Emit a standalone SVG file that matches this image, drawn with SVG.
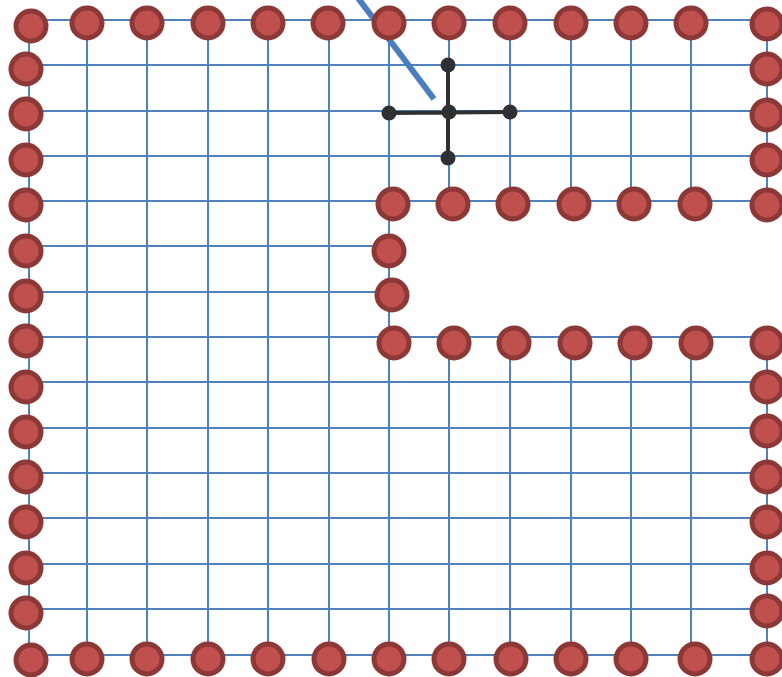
<svg xmlns="http://www.w3.org/2000/svg" width="782" height="677" viewBox="0 0 782 677">
<style>
.g{stroke:#4F81BD;stroke-width:2;fill:none}
.n{fill:#C0504D;stroke:#8C3836;stroke-width:5}
.k{stroke:#2F3033;stroke-width:4;fill:none}
.d{fill:#2F3033}
</style>
<rect width="782" height="677" fill="#fff"/>
<g id="grid" class="g">
<path d="M29 20V655M87 20V655M147 20V655M208 20V655M268 20V655M329 20V655M389 20V655"/>
<path d="M449 20V201M510 20V201M571 20V201M631 20V201M691 20V201M767 20V201"/>
<path d="M449 337V655M510 337V655M571 337V655M631 337V655M691 337V655M767 337V655"/>
<path d="M29 20H767M29 65H767M29 111H767M29 156H767M29 201H767M29 246H389M29 292H389M29 337H767M29 382H767M29 428H767M29 473H767M29 518H767M29 564H767M29 609H767M29 655H767"/>
</g>
<g id="connectors">
<line x1="358" y1="-2" x2="434" y2="99" stroke="#4A7EBF" stroke-width="6"/>
<path class="k" d="M389 113L510 112M448 65V158"/>
</g>
<g id="cross-nodes">
<circle class="d" cx="448" cy="65" r="7.5"/>
<circle class="d" cx="389" cy="113" r="7.5"/>
<circle class="d" cx="449" cy="112" r="7.5"/>
<circle class="d" cx="510" cy="112" r="7.5"/>
<circle class="d" cx="448" cy="158" r="7.5"/>
</g>
<g id="boundary-nodes">
<g id="top">
<circle class="n" cx="31" cy="26" r="15"/>
<circle class="n" cx="87" cy="23" r="15"/>
<circle class="n" cx="147" cy="23" r="15"/>
<circle class="n" cx="208" cy="23" r="15"/>
<circle class="n" cx="268" cy="23" r="15"/>
<circle class="n" cx="328" cy="23" r="15"/>
<circle class="n" cx="389" cy="23" r="15"/>
<circle class="n" cx="449" cy="23" r="15"/>
<circle class="n" cx="510" cy="23" r="15"/>
<circle class="n" cx="571" cy="23" r="15"/>
<circle class="n" cx="631" cy="23" r="15"/>
<circle class="n" cx="691" cy="23" r="15"/>
<circle class="n" cx="767" cy="24" r="15"/>
</g>
<g id="left">
<circle class="n" cx="26" cy="69" r="15"/>
<circle class="n" cx="26" cy="114" r="15"/>
<circle class="n" cx="26" cy="160" r="15"/>
<circle class="n" cx="26" cy="205" r="15"/>
<circle class="n" cx="26" cy="251" r="15"/>
<circle class="n" cx="26" cy="296" r="15"/>
<circle class="n" cx="26" cy="341" r="15"/>
<circle class="n" cx="26" cy="387" r="15"/>
<circle class="n" cx="26" cy="432" r="15"/>
<circle class="n" cx="26" cy="477" r="15"/>
<circle class="n" cx="26" cy="522" r="15"/>
<circle class="n" cx="26" cy="568" r="15"/>
<circle class="n" cx="26" cy="613" r="15"/>
</g>
<g id="bottom">
<circle class="n" cx="31" cy="660" r="15"/>
<circle class="n" cx="87" cy="659" r="15"/>
<circle class="n" cx="147" cy="659" r="15"/>
<circle class="n" cx="208" cy="659" r="15"/>
<circle class="n" cx="268" cy="659" r="15"/>
<circle class="n" cx="329" cy="659" r="15"/>
<circle class="n" cx="389" cy="659" r="15"/>
<circle class="n" cx="449" cy="659" r="15"/>
<circle class="n" cx="511" cy="659" r="15"/>
<circle class="n" cx="571" cy="659" r="15"/>
<circle class="n" cx="631" cy="659" r="15"/>
<circle class="n" cx="695" cy="659" r="15"/>
<circle class="n" cx="767" cy="659" r="15"/>
</g>
<g id="right">
<circle class="n" cx="767" cy="69" r="15"/>
<circle class="n" cx="767" cy="115" r="15"/>
<circle class="n" cx="767" cy="160" r="15"/>
<circle class="n" cx="767" cy="205" r="15"/>
<circle class="n" cx="767" cy="343" r="15"/>
<circle class="n" cx="767" cy="387" r="15"/>
<circle class="n" cx="767" cy="431" r="15"/>
<circle class="n" cx="767" cy="477" r="15"/>
<circle class="n" cx="767" cy="522" r="15"/>
<circle class="n" cx="767" cy="568" r="15"/>
<circle class="n" cx="767" cy="611" r="15"/>
</g>
<g id="notch">
<circle class="n" cx="393" cy="204" r="15"/>
<circle class="n" cx="453" cy="204" r="15"/>
<circle class="n" cx="513" cy="204" r="15"/>
<circle class="n" cx="574" cy="204" r="15"/>
<circle class="n" cx="634" cy="204" r="15"/>
<circle class="n" cx="695" cy="204" r="15"/>
<circle class="n" cx="389" cy="251" r="15"/>
<circle class="n" cx="392" cy="295" r="15"/>
<circle class="n" cx="394" cy="343" r="15"/>
<circle class="n" cx="454" cy="343" r="15"/>
<circle class="n" cx="514" cy="343" r="15"/>
<circle class="n" cx="575" cy="343" r="15"/>
<circle class="n" cx="635" cy="343" r="15"/>
<circle class="n" cx="696" cy="343" r="15"/>
</g>
</g>
</svg>
